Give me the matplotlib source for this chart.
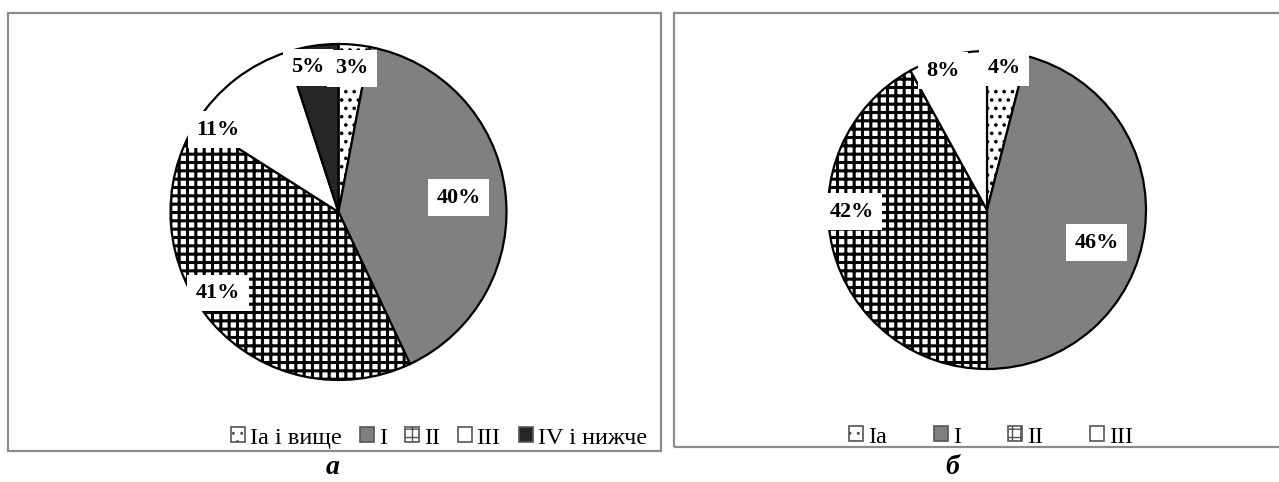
import matplotlib
matplotlib.use("Agg")
import numpy as np
import matplotlib.pyplot as plt
from matplotlib.patches import Rectangle

plt.rcParams['font.family'] = ['Liberation Serif', 'DejaVu Serif']
plt.rcParams['hatch.color'] = 'black'

# panel a
cats_a = ['Iа і вище', 'I', 'II', 'III', 'IV і нижче']
vals_a = [3, 40, 41, 11, 5]
# panel b
cats_b = ['Iа', 'I', 'II', 'III']
vals_b = [4, 46, 42, 8]

# fill / hatch per category
fills = {'Iа і вище': ('white', '..'), 'Iа': ('white', '..'),
         'I': ('#808080', ''), 'II': ('white', '++'),
         'III': ('white', ''), 'IV і нижче': ('#262626', '')}

# label placement: (fraction of radius, angle shift in degrees)
lab_a = [(0.86, 0.0), (0.72, -0.5), (0.865, -7.5), (0.87, 18.0), (0.88, 3.0)]
lab_b = [(0.90, 0.4), (0.72, -9.5), (0.85, -13.6), (0.92, 3.2)]

W, H = 1279, 482
fig = plt.figure(figsize=(W / 100, H / 100), dpi=100)

# panel frames
for x0, y0, x1, y1 in [(8, 13, 661, 451), (674, 13, 1290, 447)]:
    fig.patches.append(Rectangle((x0 / W, 1 - y1 / H), (x1 - x0) / W, (y1 - y0) / H,
                                 transform=fig.transFigure, fill=False,
                                 edgecolor='#8c8c8c', linewidth=1.6, clip_on=False))


def draw_pie(cx, cy, r, cats, vals, labs, leg_center, leg_gap):
    ax = fig.add_axes([(cx - r) / W, 1 - (cy + r) / H, 2 * r / W, 2 * r / H])
    wedges, _ = ax.pie(vals, colors=[fills[c][0] for c in cats], startangle=90,
                       counterclock=False, radius=1,
                       wedgeprops=dict(edgecolor='black', linewidth=1.6))
    ax.set_xlim(-1, 1)
    ax.set_ylim(-1, 1)
    ax.axis('off')
    for w, c in zip(wedges, cats):
        w.set_hatch(fills[c][1])
        w.set_clip_on(False)
        if hasattr(w, 'set_hatch_linewidth'):
            w.set_hatch_linewidth(2.2 if fills[c][1] == '++' else 1.4)
    total = sum(vals)
    start = 0.0
    for v, (rf, sh) in zip(vals, labs):
        mid = 90 - (start + v / 2) / total * 360 + sh
        start += v
        t = np.deg2rad(mid)
        ax.text(rf * np.cos(t), rf * np.sin(t), f'{v}%', ha='center', va='center',
                fontsize=16, fontweight='bold',
                bbox=dict(facecolor='white', edgecolor='none', pad=6))
    leg = fig.legend(wedges, cats, loc='center', bbox_to_anchor=leg_center,
                     ncol=len(cats), frameon=False, fontsize=17.5,
                     handlelength=0.57, handleheight=0.57, handletextpad=0.2,
                     columnspacing=leg_gap)
    for h in leg.legend_handles:
        h.set_edgecolor('#555555')
        h.set_linewidth(1.2)
    return ax


draw_pie(338.5, 212, 168, cats_a, vals_a, lab_a, (439 / W, 1 - 438 / H), 0.75)
draw_pie(987, 210, 159, cats_b, vals_b, lab_b, (991 / W, 1 - 437 / H), 1.95)

fig.text(333 / W, 1 - 468 / H, 'а', ha='center', va='center',
         fontsize=20, fontweight='bold', fontstyle='italic')
fig.text(952 / W, 1 - 468 / H, 'б', ha='center', va='center',
         fontsize=20, fontweight='bold', fontstyle='italic')

fig.savefig('out.png', dpi=100)
